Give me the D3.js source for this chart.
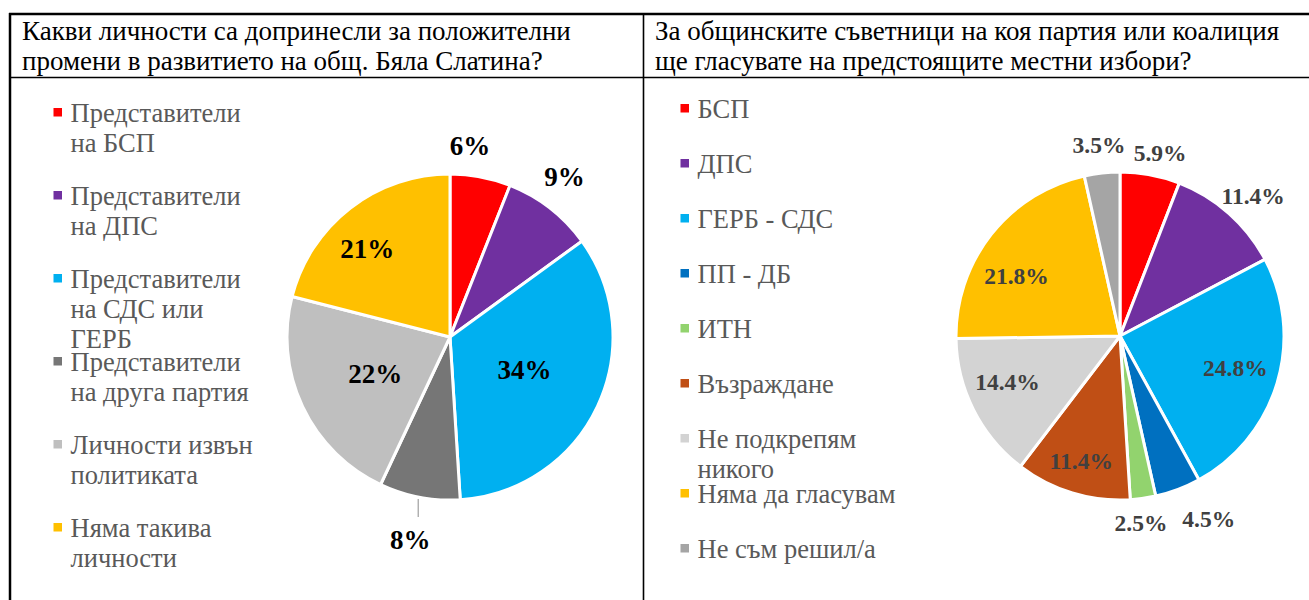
<!DOCTYPE html>
<html>
<head>
<meta charset="utf-8">
<script src="https://cdn.jsdelivr.net/npm/d3@7"></script>
<style>
  body { margin: 0; background: #fff; }
  text { font-family: "Liberation Serif", "Times New Roman", serif; }
</style>
</head>
<body>
<div id="chart"></div>
<script>
// left chart data
const leftTitle = ["Какви личности са допринесли за положителни", "промени в развитието на общ. Бяла Слатина?"];
const leftCategories = [
    ["Представители", "на БСП"],
    ["Представители", "на ДПС"],
    ["Представители", "на СДС или", "ГЕРБ"],
    ["Представители", "на друга партия"],
    ["Личности извън", "политиката"],
    ["Няма такива", "личности"]
];
const leftValues = [6, 9, 34, 8, 22, 21];
const leftLabels = ["6%", "9%", "34%", "8%", "22%", "21%"];
const leftColors = ["#FF0000", "#7030A0", "#00B0F0", "#767676", "#BFBFBF", "#FFC000"];

// right chart data
const rightTitle = ["За общинските съветници на коя партия или коалиция", "ще гласувате на предстоящите местни избори?"];
const rightCategories = [
    ["БСП"], ["ДПС"], ["ГЕРБ - СДС"], ["ПП - ДБ"], ["ИТН"], ["Възраждане"],
    ["Не подкрепям", "никого"], ["Няма да гласувам"], ["Не съм решил/а"]
];
const rightValues = [5.9, 11.4, 24.8, 4.5, 2.5, 11.4, 14.4, 21.8, 3.5];
const rightLabels = ["5.9%", "11.4%", "24.8%", "4.5%", "2.5%", "11.4%", "14.4%", "21.8%", "3.5%"];
const rightColors = ["#FF0000", "#7030A0", "#00B0F0", "#0070C0", "#92D36E", "#C04F15", "#D3D3D3", "#FFC000", "#A5A5A5"];

const width = 1309, height = 600;

const svg = d3.select("#chart")
    .append("svg")
    .attr("width", width)
    .attr("height", height);

// table grid
const grid = svg.append("g").attr("stroke", "#000");
grid.append("line").attr("x1", 9).attr("x2", width).attr("y1", 14).attr("y2", 14).attr("stroke-width", 2.5);
grid.append("line").attr("x1", 10).attr("x2", 10).attr("y1", 13).attr("y2", height).attr("stroke-width", 2.5);
grid.append("line").attr("x1", 9).attr("x2", width).attr("y1", 77.5).attr("y2", 77.5).attr("stroke-width", 1.3);
grid.append("line").attr("x1", 643.5).attr("x2", 643.5).attr("y1", 13).attr("y2", height).attr("stroke-width", 1.6);

function title(lines, x) {
    svg.append("g").selectAll("text")
        .data(lines)
        .join("text")
        .attr("x", x)
        .attr("y", (d, i) => 40 + i * 30)
        .attr("font-size", 27)
        .attr("fill", "#000")
        .text(d => d);
}
title(leftTitle, 22);
title(rightTitle, 655);

function legend(cats, colors, x, y0, step) {
    const g = svg.append("g").selectAll("g")
        .data(cats)
        .join("g")
        .attr("transform", (d, i) => `translate(${x}, ${y0 + i * step})`);
    g.append("rect")
        .attr("x", 0).attr("y", -14)
        .attr("width", 8.5).attr("height", 8.5)
        .attr("fill", (d, i) => colors[i]);
    g.selectAll("text")
        .data(d => d)
        .join("text")
        .attr("x", 17)
        .attr("y", (d, i) => i * 30)
        .attr("font-size", 26.5)
        .attr("fill", "#595959")
        .text(d => d);
}
legend(leftCategories, leftColors, 53.5, 122, 83);
legend(rightCategories, rightColors, 680.5, 118, 55);

// label placement (excel best fit): [radius factor, angle shift in degrees]
const leftPlace = [[1.18, -4.8], [1.21, -2.3], [0.5, -1.4], [1.27, 0.3], [0.51, -0.8], [0.74, -5.5]];
const rightPlace = [[1.14, 1.8], [1.18, 1.8], [0.73, -1.2], [1.24, -5.2], [1.15, 1.7], [0.8, 0.3], [0.74, 4.7], [0.73, -8.1], [1.17, 0]];

function pieChart(values, labels, colors, place, cx, cy, r, fontSize, labelColor, leader) {
    const pie = d3.pie().sort(null).value(d => d);
    const arcs = pie(values);
    const arc = d3.arc().innerRadius(0).outerRadius(r);
    const g = svg.append("g").attr("transform", `translate(${cx}, ${cy})`);

    g.selectAll("path")
        .data(arcs)
        .join("path")
        .attr("d", arc)
        .attr("fill", (d, i) => colors[i])
        .attr("stroke", "#fff")
        .attr("stroke-width", 3)
        .attr("stroke-linejoin", "round");

    const pos = (d, i) => {
        const a = (d.startAngle + d.endAngle) / 2 + place[i][1] * Math.PI / 180;
        const rr = r * place[i][0];
        return [rr * Math.sin(a), -rr * Math.cos(a)];
    };

    if (leader != null) {
        const d = arcs[leader];
        const a = (d.startAngle + d.endAngle) / 2 + place[leader][1] * Math.PI / 180;
        const p1 = [(r + 2) * Math.sin(a), -(r + 2) * Math.cos(a)];
        g.append("line")
            .attr("x1", p1[0]).attr("y1", p1[1])
            .attr("x2", p1[0]).attr("y2", p1[1] + 18)
            .attr("stroke", "#A6A6A6")
            .attr("stroke-width", 1.3);
    }

    g.selectAll("text.lbl")
        .data(arcs)
        .join("text")
        .attr("class", "lbl")
        .attr("x", (d, i) => pos(d, i)[0])
        .attr("y", (d, i) => pos(d, i)[1])
        .attr("dy", "0.34em")
        .attr("text-anchor", "middle")
        .attr("font-size", fontSize)
        .attr("font-weight", "bold")
        .attr("fill", labelColor)
        .text((d, i) => labels[i]);
}

pieChart(leftValues, leftLabels, leftColors, leftPlace, 450, 337, 163, 27, "#000", 3);
pieChart(rightValues, rightLabels, rightColors, rightPlace, 1120, 336, 164, 23.5, "#404040", null);
</script>
</body>
</html>
